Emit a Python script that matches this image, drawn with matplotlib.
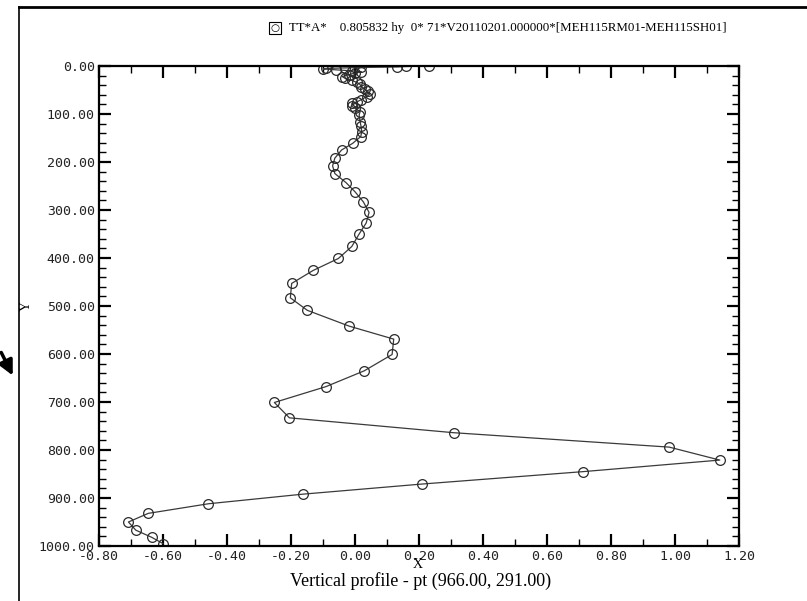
import matplotlib
matplotlib.use("Agg")
import matplotlib.pyplot as plt
from matplotlib.ticker import MultipleLocator, FormatStrFormatter

#Profile values (depth in Y, value in X)
depth = [0, 1, 2, 3, 4, 5, 6, 8, 10, 12, 15, 18, 22, 26, 30, 34, 38, 43, 48, 53,
         58, 64, 70, 75, 78, 84, 88, 95, 102, 116, 126, 137, 147, 161, 175, 192,
         208, 224, 243, 262, 283, 305, 327, 351, 376, 401, 426, 453, 483, 509,
         542, 569, 601, 635, 668, 701, 733, 764, 794, 821, 845, 871, 892, 912,
         932, 950, 967, 982, 995]
value = [0.23, 0.16, 0.13, 0.02, -0.03, -0.09, -0.10, -0.06, -0.01, 0.02, 0.00,
         -0.02, -0.04, -0.03, -0.01, 0.005, 0.015, 0.02, 0.03, 0.04, 0.047, 0.036,
         0.02, 0.005, -0.01, -0.01, 0.0, 0.016, 0.013, 0.016, 0.019, 0.021, 0.018,
         -0.007, -0.042, -0.063, -0.07, -0.063, -0.028, 0.0, 0.026, 0.044, 0.035,
         0.012, -0.010, -0.052, -0.131, -0.198, -0.202, -0.149, -0.018, 0.121,
         0.116, 0.029, -0.091, -0.252, -0.205, 0.309, 0.982, 1.14, 0.714, 0.208,
         -0.163, -0.458, -0.646, -0.708, -0.685, -0.635, -0.60]

title_text = "TT*A*    0.805832 hy  0* 71*V20110201.000000*[MEH115RM01-MEH115SH01]"
subtitle = "Vertical profile - pt (966.00, 291.00)"

W, H = 807, 601
fig = plt.figure(figsize=(W/100, H/100), dpi=100)
ax = fig.add_axes([99/W, 1-546/H, 640/W, 480/H])

ax.plot(value, depth, "-", color="#3a3a3a", lw=0.9,
        marker="o", ms=7, mfc="none", mec="#2a2a2a", mew=0.9)

ax.set_xlim(-0.8, 1.2)
ax.set_ylim(1000, 0)
ax.xaxis.set_major_locator(MultipleLocator(0.2))
ax.xaxis.set_minor_locator(MultipleLocator(0.1))
ax.yaxis.set_major_locator(MultipleLocator(100))
ax.yaxis.set_minor_locator(MultipleLocator(20))
ax.xaxis.set_major_formatter(FormatStrFormatter("%.2f"))
ax.yaxis.set_major_formatter(FormatStrFormatter("%.2f"))
ax.tick_params(which="both", direction="in", top=True, right=True, color="black")
ax.tick_params(which="major", length=8.5, width=1.6, pad=3)
ax.tick_params(which="minor", length=5, width=1)
for sp in ax.spines.values():
    sp.set_linewidth(1.6)
for lab in ax.get_xticklabels() + ax.get_yticklabels():
    lab.set_fontfamily("DejaVu Sans Mono")
    lab.set_fontsize(9.5)
    lab.set_color("#222222")

#Axis labels and texts
fig.text(418/W, 1-565/H, "X", family="Liberation Serif", fontsize=10, ha="center", va="center")
fig.text(26/W, 1-306/H, "Y", family="Liberation Serif", fontsize=10, ha="center", va="center", rotation=90)
fig.text(421/W, 1-581/H, subtitle, family="Liberation Serif", fontsize=13, ha="center", va="center")
fig.text(275/W, 1-28/H, "○", family="DejaVu Sans", fontsize=7.5, ha="center", va="center",
         bbox=dict(boxstyle="square,pad=0.12", fc="white", ec="black", lw=0.8))
fig.text(289/W, 1-28/H, title_text, family="Liberation Serif", fontsize=9.3, ha="left", va="center")

#Frame lines and arrow on the left
fig.add_artist(plt.Line2D([19/W, 19/W], [0, 1-7/H], color="black", lw=1.2))
fig.add_artist(plt.Line2D([19/W, 1], [1-7/H, 1-7/H], color="black", lw=2))
ax.annotate("", xy=(14/W, 1-378/H), xycoords="figure fraction",
            xytext=(0, 1-350/H), textcoords="figure fraction",
            arrowprops=dict(arrowstyle="-|>", color="black", lw=2.5, mutation_scale=22))

fig.savefig("out.png", dpi=100)
